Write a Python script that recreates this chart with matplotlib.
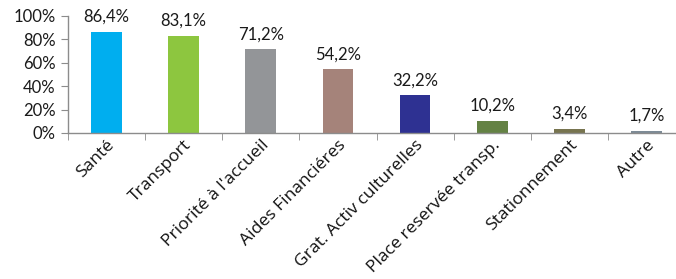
import matplotlib.pyplot as plt
from matplotlib.ticker import FuncFormatter, FixedLocator
import numpy as np

categories = ["Santé", "Transport", "Priorité à l'accueil", "Aides Financiéres",
              "Grat. Activ culturelles", "Place reservée transp.", "Stationnement", "Autre"]
values = [86.4, 83.1, 71.2, 54.2, 32.2, 10.2, 3.4, 1.7]
labels = ["86,4%", "83,1%", "71,2%", "54,2%", "32,2%", "10,2%", "3,4%", "1,7%"]
colors = ["#00AEEF", "#8DC63F", "#939598", "#A5837A", "#2E3192", "#648244", "#77744F", "#7D8B96"]

fig = plt.figure(figsize=(6.76, 2.79), dpi=100)
ax = fig.add_axes([68 / 676, 1 - 133 / 279, 617 / 676, 117.3 / 279])

x = np.arange(len(categories))
ax.bar(x, values, width=0.4, color=colors, zorder=2)

for xi, v, lab in zip(x, values, labels):
    ax.text(xi, v + 6, lab, ha="center", va="bottom", fontsize=12,
            family="Lato", color="#1a1a1a")

ax.set_xlim(-0.5, len(categories) - 0.5)
ax.set_ylim(0, 100)
ax.set_yticks([0, 20, 40, 60, 80, 100])
ax.yaxis.set_major_formatter(FuncFormatter(lambda v, p: f"{int(v)}%"))
for t in ax.get_yticklabels():
    t.set_family("Lato")
    t.set_fontsize(12)
    t.set_color("#1a1a1a")

ax.set_xticks(x)
ax.set_xticklabels(categories, rotation=45, ha="right", rotation_mode="anchor",
                   fontsize=12.6, family="Open Sans", color="#111111")
ax.xaxis.set_minor_locator(FixedLocator(np.arange(-0.5, len(categories) + 0.5, 1)))
ax.tick_params(axis="x", which="major", length=0, pad=3)
ax.tick_params(axis="x", which="minor", length=5, color="#8c8c8c", direction="out")
ax.tick_params(axis="y", length=5, color="#8c8c8c", pad=4)

for s in ["top", "right"]:
    ax.spines[s].set_visible(False)
for s in ["left", "bottom"]:
    ax.spines[s].set_color("#8c8c8c")
    ax.spines[s].set_linewidth(1)

fig.savefig("out.png", dpi=100)
